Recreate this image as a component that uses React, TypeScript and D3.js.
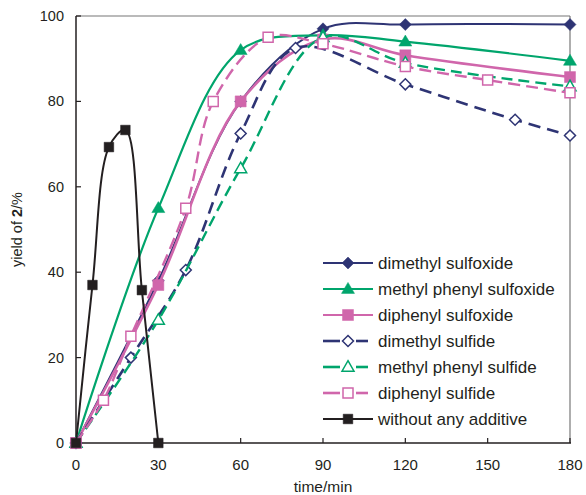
import React from 'react';
import * as d3 from 'd3';

// reaction time (min) and yield of 2 (%) for each additive
const dmsoT = [0, 30, 60, 90, 120, 180];
const dmsoY = [0, 38, 80, 97, 98, 98];

const mpsoT = [0, 30, 60, 90, 120, 180];
const mpsoY = [0, 55, 92, 95.5, 94, 89.5];

const dpsoT = [0, 30, 60, 90, 120, 180];
const dpsoY = [0, 37, 80, 94.5, 90.8, 85.7];

const dmsT = [0, 20, 40, 60, 80, 120, 160, 180];
const dmsY = [0, 20, 40.5, 72.5, 92.5, 84, 75.7, 72];

const mpsT = [0, 30, 60, 90, 120, 180];
const mpsY = [0, 28.8, 64.3, 95, 89, 83.5];

const dpsT = [0, 10, 20, 40, 50, 70, 90, 120, 150, 180];
const dpsY = [0, 10, 25, 55, 80, 95, 93.5, 88.2, 85, 82];

const noneT = [0, 6, 12, 18, 24, 30];
const noneY = [0, 37, 69.3, 73.3, 35.8, 0];

const xTicks = [0, 30, 60, 90, 120, 150, 180];
const yTicks = [0, 20, 40, 60, 80, 100];

const NAVY = '#2e3474';
const GREEN = '#00a56c';
const PINK = '#d066ab';
const BLACK = '#231f20';

type Series = {
  name: string;
  t: number[];
  v: number[];
  color: string;
  marker: 'diamond' | 'triangle' | 'square';
  filled: boolean;
  dash: string | null;
  width: number;
};

const series: Series[] = [
  { name: 'dimethyl sulfoxide', t: dmsoT, v: dmsoY, color: NAVY, marker: 'diamond', filled: true, dash: null, width: 2 },
  { name: 'methyl phenyl sulfoxide', t: mpsoT, v: mpsoY, color: GREEN, marker: 'triangle', filled: true, dash: null, width: 2.2 },
  { name: 'diphenyl sulfoxide', t: dpsoT, v: dpsoY, color: PINK, marker: 'square', filled: true, dash: null, width: 2.6 },
  { name: 'dimethyl sulfide', t: dmsT, v: dmsY, color: NAVY, marker: 'diamond', filled: false, dash: '12,7', width: 2.6 },
  { name: 'methyl phenyl sulfide', t: mpsT, v: mpsY, color: GREEN, marker: 'triangle', filled: false, dash: '11,6', width: 2.4 },
  { name: 'diphenyl sulfide', t: dpsT, v: dpsY, color: PINK, marker: 'square', filled: false, dash: '12,6', width: 2.4 },
  { name: 'without any additive', t: noneT, v: noneY, color: BLACK, marker: 'square', filled: true, dash: null, width: 2 },
];

const W = 586;
const H = 495;
const FONT = 'Liberation Sans, Arial, Helvetica, sans-serif';

function markerPath(kind: string, filled: boolean, small: boolean) {
  if (kind === 'diamond') {
    const r = filled ? 6 : 5.5;
    return `M0,${-r}L${r},0L0,${r}L${-r},0Z`;
  }
  if (kind === 'triangle') {
    const h = filled ? 11 : 10.5;
    const w = filled ? 6.5 : 6;
    return `M0,${-h * 0.6}L${w},${h * 0.4}L${-w},${h * 0.4}Z`;
  }
  const s = small ? 4.8 : filled ? 5.5 : 5;
  return `M${-s},${-s}H${s}V${s}H${-s}Z`;
}

export default function App() {
  const x = d3.scaleLinear().domain([0, 180]).range([76, 570]);
  const y = d3.scaleLinear().domain([0, 100]).range([443, 16]);

  const line = d3
    .line<[number, number]>()
    .x((d) => x(d[0]))
    .y((d) => y(d[1]))
    .curve(d3.curveCatmullRom.alpha(0.5));

  const legendX = 323;
  const legendY = 263;
  const legendStep = 26;

  return (
    <svg width={W} height={H} style={{ position: 'absolute', left: 0, top: 0, background: '#fff' }}>
      {/* frame */}
      <line x1={76} x2={570} y1={16} y2={16} stroke="#777" strokeWidth={1.2} />
      <line x1={570} x2={570} y1={16} y2={443} stroke="#777" strokeWidth={1.2} />
      <line x1={76} x2={76} y1={16} y2={443} stroke={BLACK} strokeWidth={1.5} />
      <line x1={76} x2={571} y1={443} y2={443} stroke={BLACK} strokeWidth={1.5} />

      {/* ticks */}
      {yTicks.map((t) => (
        <g key={'y' + t}>
          <line x1={76} x2={81} y1={y(t)} y2={y(t)} stroke={BLACK} strokeWidth={1.2} />
          <text x={64} y={y(t) + 5} textAnchor="end" fontFamily={FONT} fontSize={14.5} fill={BLACK}>
            {t}
          </text>
        </g>
      ))}
      {xTicks.map((t) => (
        <g key={'x' + t}>
          <line x1={x(t)} x2={x(t)} y1={443} y2={438} stroke={BLACK} strokeWidth={1.2} />
          <text x={x(t)} y={470} textAnchor="middle" fontFamily={FONT} fontSize={15} fill={BLACK}>
            {t}
          </text>
        </g>
      ))}

      <text x={x(90)} y={492} textAnchor="middle" fontFamily={FONT} fontSize={15.5} fill={BLACK}>
        time/min
      </text>
      <text
        transform={`translate(22,${y(50)}) rotate(-90)`}
        textAnchor="middle"
        fontFamily={FONT}
        fontSize={14.5}
        fill={BLACK}
      >
        yield of <tspan fontWeight="bold">2</tspan>/%
      </text>

      {/* series */}
      {series.map((s) => {
        const pts = s.t.map((t, i) => [t, s.v[i]] as [number, number]);
        return (
          <g key={s.name}>
            <path
              d={line(pts) || ''}
              fill="none"
              stroke={s.color}
              strokeWidth={s.width}
              strokeDasharray={s.dash || undefined}
            />
            {pts.map((p, i) => (
              <path
                key={i}
                d={markerPath(s.marker, s.filled, s.color === BLACK)}
                transform={`translate(${x(p[0])},${y(p[1])})`}
                fill={s.filled ? s.color : '#fff'}
                stroke={s.color}
                strokeWidth={s.filled ? 0.5 : 1.5}
              />
            ))}
          </g>
        );
      })}

      {/* legend */}
      {series.map((s, i) => {
        const ly = legendY + i * legendStep;
        const mx = legendX + 25;
        return (
          <g key={'lg' + s.name}>
            {s.dash ? (
              <>
                <line x1={legendX} x2={mx - 8} y1={ly} y2={ly} stroke={s.color} strokeWidth={2.6} />
                <line x1={mx + 8} x2={legendX + 45} y1={ly} y2={ly} stroke={s.color} strokeWidth={2.6} />
              </>
            ) : (
              <line x1={legendX} x2={legendX + 50} y1={ly} y2={ly} stroke={s.color} strokeWidth={2.2} />
            )}
            <path
              d={markerPath(s.marker, s.filled, s.color === BLACK)}
              transform={`translate(${mx},${ly})`}
              fill={s.filled ? s.color : '#fff'}
              stroke={s.color}
              strokeWidth={s.filled ? 0.5 : 1.5}
            />
            <text x={legendX + 55} y={ly + 6} fontFamily={FONT} fontSize={17} fill={BLACK}>
              {s.name}
            </text>
          </g>
        );
      })}
    </svg>
  );
}
